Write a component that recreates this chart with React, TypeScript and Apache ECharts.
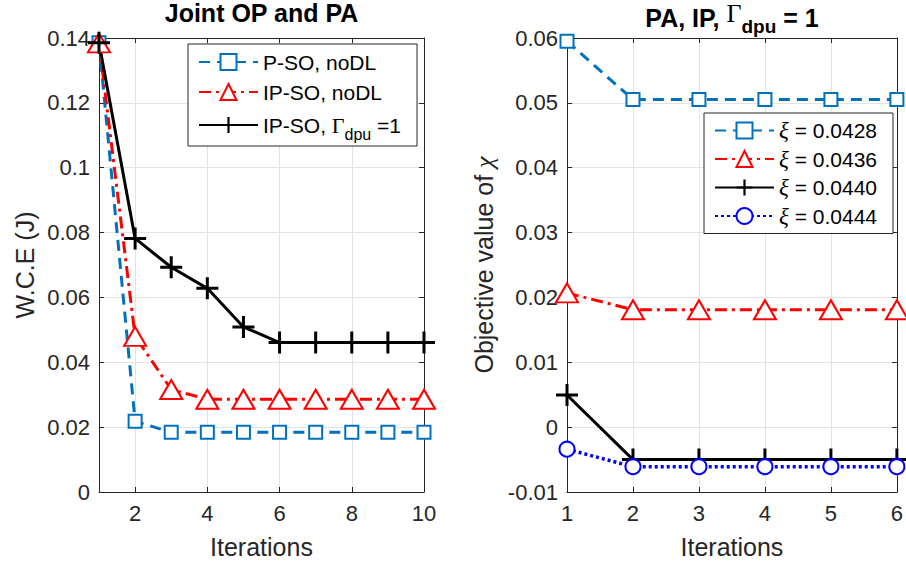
import React, { useEffect, useRef } from 'react';
import * as echarts from 'echarts';

// ---- data ----
const leftIterations = [1, 2, 3, 4, 5, 6, 7, 8, 9, 10];
const psoNoDL = [0.1385, 0.0218, 0.0184, 0.0184, 0.0184, 0.0184, 0.0184, 0.0184, 0.0184, 0.0184];
const ipsoNoDL = [0.1385, 0.048, 0.0316, 0.0286, 0.0286, 0.0286, 0.0286, 0.0286, 0.0286, 0.0286];
const ipsoDpu = [0.1385, 0.0782, 0.0693, 0.0628, 0.0509, 0.0461, 0.0461, 0.0461, 0.0461, 0.0461];
const leftXTicks = [2, 4, 6, 8, 10];

const rightIterations = [1, 2, 3, 4, 5, 6];
const xi0428 = [0.0595, 0.0505, 0.0505, 0.0505, 0.0505, 0.0505];
const xi0436 = [0.0207, 0.0181, 0.0181, 0.0181, 0.0181, 0.0181];
const xi0440 = [0.00495, -0.005, -0.005, -0.005, -0.005, -0.005];
const xi0444 = [-0.0034, -0.0061, -0.0061, -0.0061, -0.0061, -0.0061];

const leftNames = ['P-SO, noDL', 'IP-SO, noDL', 'IP-SO, Γdpu =1'];
const rightNames = ['ξ = 0.0428', 'ξ = 0.0436', 'ξ = 0.0440', 'ξ = 0.0444'];

const SANS = "'Liberation Sans', Arial, Helvetica, sans-serif";
const SERIF = "'Liberation Serif', 'Times New Roman', serif";
const AX = '#262626';
const GRID = '#e3e3e3';
const PLUS = 'path://M9.5,0H12.5V9.5H22V12.5H12.5V22H9.5V12.5H0V9.5H9.5Z';

const pairs = (xs: number[], ys: number[]) => xs.map((x, i) => [x, ys[i]]);
const fmt = (v: number) => String(+v.toFixed(4));

function App() {
  const ref = useRef<HTMLDivElement>(null);
  useEffect(() => {
    if (!ref.current) return;
    const chart = echarts.init(ref.current, undefined, { renderer: 'svg' });

    const baseX = (grid: number, min: number, max: number, extra: any = {}) => ({
      type: 'value', gridIndex: grid, min, max, position: 'bottom',
      axisLine: { show: true, onZero: false, lineStyle: { color: AX, width: 1 } },
      axisTick: { show: true, inside: true, length: 5, lineStyle: { color: AX } },
      axisLabel: { fontSize: 22, color: AX, fontFamily: SANS, margin: 10, formatter: fmt },
      splitLine: { show: true, lineStyle: { color: GRID, width: 1 } },
      name: 'Iterations', nameLocation: 'middle', nameGap: 42,
      nameTextStyle: { fontSize: 25, color: AX, fontFamily: SANS },
      ...extra,
    });
    const topX = (grid: number, min: number, max: number, extra: any = {}) => ({
      type: 'value', gridIndex: grid, min, max, position: 'top',
      axisLine: { show: true, onZero: false, lineStyle: { color: AX, width: 1 } },
      axisTick: { show: true, inside: true, length: 5, lineStyle: { color: AX } },
      axisLabel: { show: false },
      splitLine: { show: false },
      ...extra,
    });
    const leftY = (grid: number, min: number, max: number, interval: number, extra: any = {}) => ({
      type: 'value', gridIndex: grid, min, max, interval, position: 'left',
      axisLine: { show: true, onZero: false, lineStyle: { color: AX, width: 1 } },
      axisTick: { show: true, inside: true, length: 5, lineStyle: { color: AX } },
      axisLabel: { fontSize: 22, color: AX, fontFamily: SANS, margin: 9, formatter: fmt },
      splitLine: { show: true, lineStyle: { color: GRID, width: 1 } },
      nameLocation: 'middle',
      nameTextStyle: { fontSize: 25, color: AX, fontFamily: SANS },
      ...extra,
    });
    const rightY = (grid: number, min: number, max: number, interval: number) => ({
      type: 'value', gridIndex: grid, min, max, interval, position: 'right',
      axisLine: { show: true, onZero: false, lineStyle: { color: AX, width: 1 } },
      axisTick: { show: true, inside: true, length: 5, lineStyle: { color: AX } },
      axisLabel: { show: false },
      splitLine: { show: false },
    });

    const legendBase = {
      orient: 'vertical',
      itemWidth: 59,
      itemHeight: 20,
      backgroundColor: '#ffffff',
      borderColor: AX,
      borderWidth: 1,
      borderRadius: 0,
      z: 10,
    };

    const option: any = {
      animation: false,
      backgroundColor: '#ffffff',
      title: [
        {
          text: 'Joint OP and PA', left: 261.5, top: 0, textAlign: 'center', padding: 0,
          textStyle: { fontSize: 25, fontWeight: 'bold', color: '#000', fontFamily: SANS },
        },
        {
          text: 'PA, IP, {g|Γ}{s|dpu} = 1', left: 732, top: 0, textAlign: 'center', padding: 0,
          textStyle: {
            fontSize: 25, fontWeight: 'bold', color: '#000', fontFamily: SANS, lineHeight: 36,
            rich: {
              g: { fontFamily: SERIF, fontWeight: 'normal', fontSize: 26, color: '#000', lineHeight: 30, verticalAlign: 'top' },
              s: { fontFamily: SANS, fontWeight: 'bold', fontSize: 19, color: '#000', lineHeight: 36, verticalAlign: 'bottom' },
            },
          },
        },
      ],
      grid: [
        { left: 99, top: 38, width: 325, height: 454, show: false },
        { left: 567, top: 38, width: 331, height: 454, show: false },
      ],
      xAxis: [
        baseX(0, 1, 10, {
          axisTick: { show: true, inside: true, length: 5, lineStyle: { color: AX }, customValues: leftXTicks },
          axisLabel: { fontSize: 22, color: AX, fontFamily: SANS, margin: 10, formatter: fmt, customValues: leftXTicks },
        }),
        topX(0, 1, 10, {
          axisTick: { show: true, inside: true, length: 5, lineStyle: { color: AX }, customValues: leftXTicks },
        }),
        baseX(1, 1, 6, { interval: 1 }),
        topX(1, 1, 6, { interval: 1 }),
      ],
      yAxis: [
        leftY(0, 0, 0.14, 0.02, { name: 'W.C.E (J)', nameGap: 62 }),
        rightY(0, 0, 0.14, 0.02),
        leftY(1, -0.01, 0.06, 0.01, {
          name: 'Objective value of {c|χ}', nameGap: 70,
          nameTextStyle: {
            fontSize: 25, color: AX, fontFamily: SANS,
            rich: { c: { fontFamily: SERIF, fontStyle: 'italic', fontSize: 26, color: AX } },
          },
        }),
        rightY(1, -0.01, 0.06, 0.01),
      ],
      legend: [
        {
          ...legendBase,
          data: leftNames,
          left: 188, top: 44,
          itemGap: 2,
          padding: [4, 16, 4, 10],
          formatter: (n: string) => (n === leftNames[2] ? 'IP-SO, {g|Γ}{s|dpu} =1' : n),
          textStyle: {
            fontSize: 21, color: '#000', fontFamily: SANS, lineHeight: 28,
            rich: {
              g: { fontFamily: SERIF, fontSize: 22, color: '#000', lineHeight: 28 },
              s: { fontFamily: SANS, fontSize: 16, color: '#000', lineHeight: 34, verticalAlign: 'bottom' },
            },
          },
        },
        {
          ...legendBase,
          data: rightNames,
          left: 704, top: 113,
          itemGap: 1.5,
          padding: [4, 16, 4, 10],
          formatter: (n: string) => '{x|ξ}' + n.slice(1),
          textStyle: {
            fontSize: 21, color: '#000', fontFamily: SANS, lineHeight: 27,
            rich: {
              x: { fontFamily: SERIF, fontStyle: 'italic', fontSize: 23, color: '#000', lineHeight: 27 },
            },
          },
        },
      ],
      series: [
        {
          name: leftNames[0], type: 'line', xAxisIndex: 0, yAxisIndex: 0,
          data: pairs(leftIterations, psoNoDL),
          symbol: 'emptyRect', symbolSize: 13,
          lineStyle: { color: '#0072BD', width: 3, type: [11, 7] },
          itemStyle: { color: '#0072BD', borderWidth: 2.5 },
        },
        {
          name: leftNames[1], type: 'line', xAxisIndex: 0, yAxisIndex: 0,
          data: pairs(leftIterations, ipsoNoDL),
          symbol: 'emptyTriangle', symbolSize: [22, 19],
          lineStyle: { color: '#FF0000', width: 3, type: [12, 5, 3, 5] },
          itemStyle: { color: '#FF0000', borderWidth: 2.5 },
        },
        {
          name: leftNames[2], type: 'line', xAxisIndex: 0, yAxisIndex: 0,
          data: pairs(leftIterations, ipsoDpu),
          symbol: PLUS, symbolSize: 22,
          lineStyle: { color: '#000000', width: 3, type: 'solid' },
          itemStyle: { color: '#000000' },
        },
        {
          name: rightNames[0], type: 'line', xAxisIndex: 2, yAxisIndex: 2,
          data: pairs(rightIterations, xi0428),
          symbol: 'emptyRect', symbolSize: 13,
          lineStyle: { color: '#0072BD', width: 3, type: [11, 7] },
          itemStyle: { color: '#0072BD', borderWidth: 2.5 },
        },
        {
          name: rightNames[1], type: 'line', xAxisIndex: 2, yAxisIndex: 2,
          data: pairs(rightIterations, xi0436),
          symbol: 'emptyTriangle', symbolSize: [22, 19],
          lineStyle: { color: '#FF0000', width: 3, type: [12, 5, 3, 5] },
          itemStyle: { color: '#FF0000', borderWidth: 2.5 },
        },
        {
          name: rightNames[2], type: 'line', xAxisIndex: 2, yAxisIndex: 2,
          data: pairs(rightIterations, xi0440),
          symbol: PLUS, symbolSize: 22,
          lineStyle: { color: '#000000', width: 3, type: 'solid' },
          itemStyle: { color: '#000000' },
        },
        {
          name: rightNames[3], type: 'line', xAxisIndex: 2, yAxisIndex: 2,
          data: pairs(rightIterations, xi0444),
          symbol: 'emptyCircle', symbolSize: 15,
          lineStyle: { color: '#0000FF', width: 3.5, type: [3, 3] },
          itemStyle: { color: '#0000FF', borderWidth: 3 },
        },
      ],
    };

    chart.setOption(option);
    return () => chart.dispose();
  }, []);

  return (
    <div
      ref={ref}
      style={{ position: 'absolute', left: 0, top: 0, width: 906, height: 566, background: '#fff' }}
    />
  );
}

export default App;
